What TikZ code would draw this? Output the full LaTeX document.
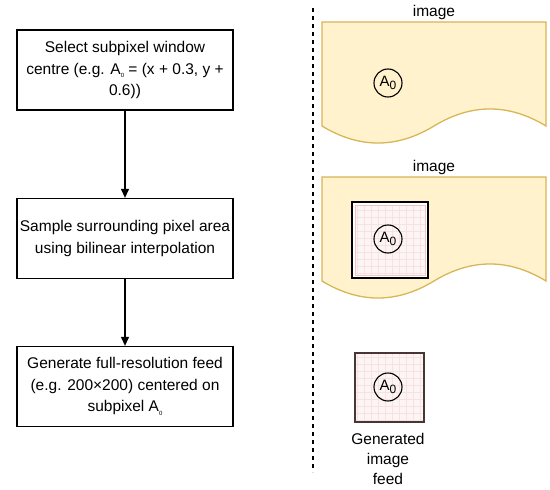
\documentclass[tikz,border=0pt]{standalone}
\usepackage{fontspec}
\setmainfont{Liberation Sans}
\usetikzlibrary{arrows.meta}
\definecolor{docfill}{HTML}{FFF2CC}
\definecolor{docline}{HTML}{D6B656}
\definecolor{pinkfill}{HTML}{FDF4F4}
\definecolor{gridline}{HTML}{F6E2E2}
\definecolor{pinkedge}{HTML}{EFC4C4}
\definecolor{brownedge}{HTML}{4A3535}
\begin{document}
\begin{tikzpicture}[x=1pt,y=-1pt,
  stepbox/.style={draw, line width=1.3pt, minimum width=216pt, minimum height=80pt, align=center, inner sep=0pt, font=\fontsize{15.5}{21.5}\selectfont},
  conn/.style={line width=1.1pt, -{Triangle[width=8pt,length=9pt]}},
  doc/.style={fill=docfill, draw=docline, line width=1.3pt},
  apt/.style={circle, draw, line width=1.1pt, minimum size=28pt, inner sep=0pt, font=\fontsize{15}{15}\selectfont},
  lbl/.style={font=\fontsize{15.5}{20}\selectfont, align=center, inner sep=0pt}]
\useasboundingbox (0,0) rectangle (550,490);

% left flow
\node[stepbox] (b1) at (125,70) {Select subpixel window\\centre (e.g. A\raisebox{-0.4ex}{\fontsize{6}{6}\selectfont 0} = (x + 0.3, y +\\0.6))};
\node[stepbox] (b2) at (125,238.5) {Sample surrounding pixel area\\using bilinear interpolation};
\node[stepbox] (b3) at (125,386.5) {Generate full-resolution feed\\(e.g. 200\texttimes200) centered on\\subpixel A\raisebox{-0.4ex}{\fontsize{6}{6}\selectfont 0}};
\draw[conn] (b1) -- (b2);
\draw[conn] (b2) -- (b3);

% divider
\coordinate (d1) at (313,8);
\coordinate (d2) at (313,472);
\draw[line width=1.1pt, dash pattern=on 4pt off 4pt] (d1) -- (d2);

% top document
\node[lbl] (l1) at (434,12) {image};
\draw[doc] (322,22) -- (546,22) -- (546,126)
  .. controls (508.7,103.3) and (471.3,103.3) .. (434,126)
  .. controls (396.7,148.7) and (359.3,148.7) .. (322,126) -- cycle;
\node[apt] (a1) at (388,83) {A\raisebox{-0.45ex}{\fontsize{12}{12}\selectfont 0}};

% second document
\node[lbl] (l2) at (434,167) {image};
\begin{scope}[yshift=-155pt]
\draw[doc] (322,22) -- (546,22) -- (546,126)
  .. controls (508.7,103.3) and (471.3,103.3) .. (434,126)
  .. controls (396.7,148.7) and (359.3,148.7) .. (322,126) -- cycle;
\end{scope}
\draw[fill=white, line width=1.5pt] (352,202) rectangle (428,278);
\fill[pinkfill] (355,205) rectangle (425,275);
\begin{scope}
\clip (355,205) rectangle (425,275);
\draw[gridline, line width=0.4pt, step=7pt] (355,205) grid (425,275);
\end{scope}
\draw[pinkedge, line width=0.6pt] (355,205) rectangle (425,275);
\node[apt] (a2) at (388,239) {A\raisebox{-0.45ex}{\fontsize{12}{12}\selectfont 0}};

% generated feed
\fill[pinkfill] (355,353) rectangle (424,422);
\begin{scope}
\clip (355,353) rectangle (424,422);
\draw[gridline, line width=0.4pt, step=7pt] (355,353) grid (424,422);
\end{scope}
\draw[brownedge, line width=1.2pt] (355,353) rectangle (424,422);
\node[apt] (a3) at (388,387) {A\raisebox{-0.45ex}{\fontsize{12}{12}\selectfont 0}};
\node[lbl] (l3) at (388,459) {Generated\\image\\feed};
\end{tikzpicture}
\end{document}
